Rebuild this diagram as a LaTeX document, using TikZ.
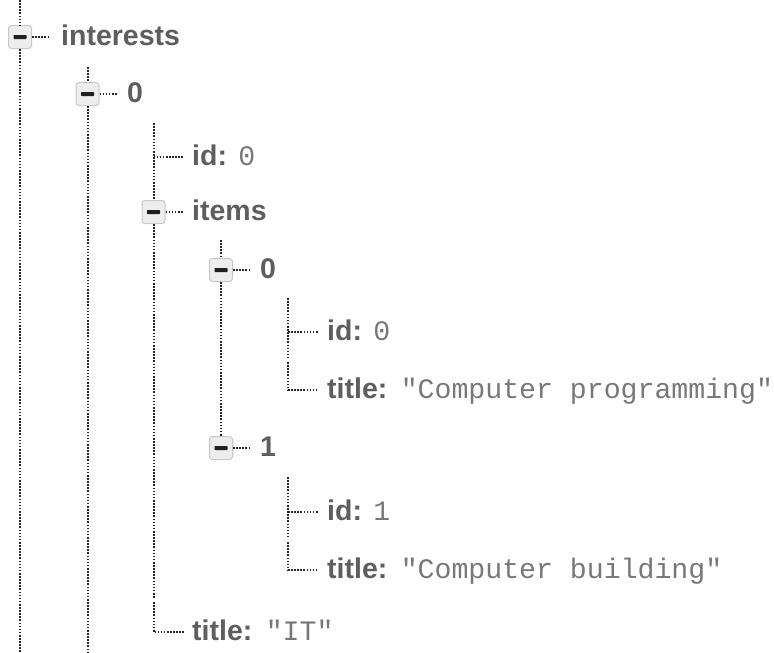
\documentclass[tikz,border=0pt]{standalone}
\usepackage{fontspec}
\setmainfont{Liberation Sans}
\newfontfamily\valfont{Liberation Mono}
\definecolor{keygray}{HTML}{5E5E5E}
\definecolor{valgray}{HTML}{787878}
\definecolor{dotgray}{HTML}{262626}
\definecolor{togglefill}{HTML}{EDEDED}
\definecolor{togglerim}{HTML}{C8C8C8}
\tikzset{
  guide/.style={draw=dotgray, line width=2pt, dash pattern=on 1.6pt off 1.5pt},
  toggle/.style={draw=togglerim, fill=togglefill, rounded corners=3pt,
    minimum size=23pt, inner sep=0pt, line width=1pt,
    path picture={\fill[black!88, rounded corners=0.6pt]
      ([xshift=-6.5pt,yshift=-2pt]path picture bounding box.center)
      rectangle ++(13pt,4pt);}},
  keytxt/.style={anchor=base west, inner sep=0pt, text=keygray,
    font=\fontsize{28.5}{30}\selectfont\bfseries},
  valtxt/.style={anchor=base west, inner sep=0pt, text=valgray,
    font=\valfont\fontsize{28.2}{30}\selectfont},
}
\begin{document}
\begin{tikzpicture}[x=1pt, y=-1pt]
\useasboundingbox (0,0) rectangle (774,653);

% ---- level 0: interests
\coordinate (a0) at (20,0);
\coordinate (a1) at (20,653);
\node[toggle] (t0) at (20,37) {};
\node[keytxt] (k0) at (61,45) {interests};
\draw[guide] (a0) -- (t0.north);
\draw[guide] (t0.south) -- (a1);
\draw[guide] (t0.east) -- ++(18,0);

% ---- level 1: entry 0
\coordinate (b0) at (87.5,67);
\coordinate (b1) at (87.5,653);
\node[toggle] (t1) at (87.5,94) {};
\node[keytxt] (k1) at (127,102) {0};
\draw[guide] (b0) -- (t1.north);
\draw[guide] (t1.south) -- (b1);
\draw[guide] (t1.east) -- ++(18,0);

% ---- level 2: id, items, title
\coordinate (c0) at (153.5,123);
\coordinate (cid) at (153.5,157);
\node[keytxt] (kid) at (192,165) {id:};
\node[valtxt] (vid) at ([xshift=11pt]kid.base east) {0};
\draw[guide] (cid) -- ++(30,0);

\node[toggle] (titems) at (153.5,212) {};
\node[keytxt] (kitems) at (192,220) {items};
\draw[guide] (c0) -- (titems.north);
\draw[guide] (titems.east) -- ++(18,0);

\coordinate (cgap) at (153.5,598);
\coordinate (cgap2) at (153.5,602);
\coordinate (ctitle) at (153.5,632);
\node[keytxt] (ktitle) at (192,640) {title:};
\node[valtxt] (vtitle) at ([xshift=13pt]ktitle.base east) {"IT"};
\draw[guide] (titems.south) -- (cgap);
\draw[guide] (cgap2) -- (ctitle) -- ++(30,0);

% ---- level 3: items 0 and 1
\coordinate (d0) at (221,240);
\node[toggle] (ti0) at (221,270) {};
\node[keytxt] (ki0) at (260,278) {0};
\node[toggle] (ti1) at (221,448) {};
\node[keytxt] (ki1) at (260,456) {1};
\draw[guide] (d0) -- (ti0.north);
\draw[guide] (ti0.south) -- (ti1.north);
\draw[guide] (ti0.east) -- ++(18,0);
\draw[guide] (ti1.east) -- ++(18,0);

% ---- level 4: fields of item 0
\coordinate (e0) at (288,298);
\coordinate (eid) at (288,332);
\coordinate (egap) at (288,357);
\coordinate (egap2) at (288,362);
\coordinate (etitle) at (288,390);
\node[keytxt] (keid) at (327,340) {id:};
\node[valtxt] (veid) at ([xshift=11pt]keid.base east) {0};
\node[keytxt] (ketitle) at (327,398) {title:};
\node[valtxt] (vetitle) at ([xshift=13pt]ketitle.base east) {"Computer programming"};
\draw[guide] (e0) -- (eid) -- (egap);
\draw[guide] (eid) -- ++(30,0);
\draw[guide] (egap2) -- (etitle) -- ++(30,0);

% ---- level 4: fields of item 1
\coordinate (f0) at (288,477);
\coordinate (fid) at (288,512);
\coordinate (fgap) at (288,537);
\coordinate (fgap2) at (288,542);
\coordinate (ftitle) at (288,570);
\node[keytxt] (kfid) at (327,520) {id:};
\node[valtxt] (vfid) at ([xshift=11pt]kfid.base east) {1};
\node[keytxt] (kftitle) at (327,578) {title:};
\node[valtxt] (vftitle) at ([xshift=13pt]kftitle.base east) {"Computer building"};
\draw[guide] (f0) -- (fid) -- (fgap);
\draw[guide] (fid) -- ++(30,0);
\draw[guide] (fgap2) -- (ftitle) -- ++(30,0);
\end{tikzpicture}
\end{document}
